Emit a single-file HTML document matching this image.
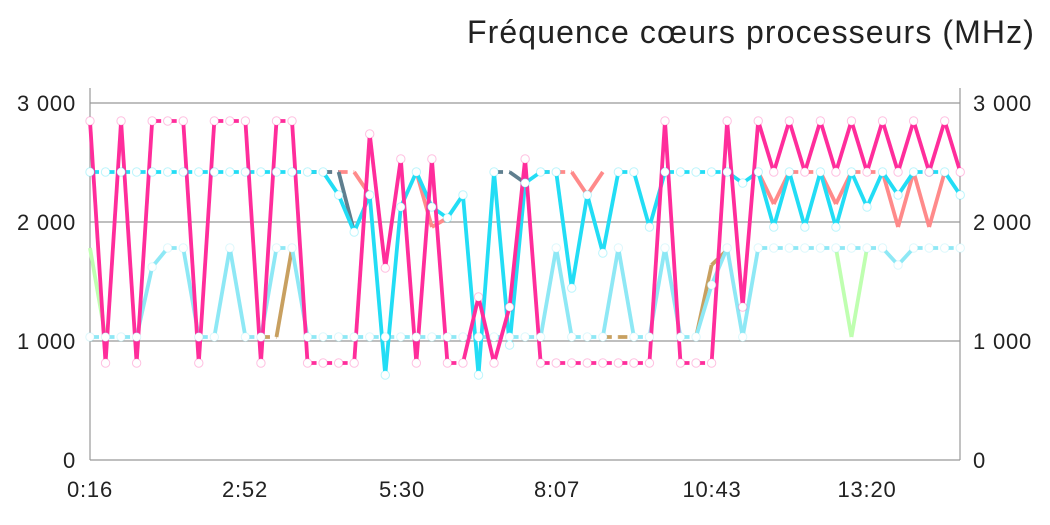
<!DOCTYPE html>
<html><head><meta charset="utf-8"><style>
body{margin:0;background:#fff;width:1050px;height:525px;overflow:hidden}
svg{display:block;font-family:"Liberation Sans",sans-serif}
</style></head><body>
<svg id="c" width="1050" height="525" xmlns="http://www.w3.org/2000/svg">
<text x="1035" y="43" font-size="32" text-anchor="end" fill="#222" letter-spacing="1.1">Fréquence cœurs processeurs (MHz)</text>
<g stroke="#999" stroke-width="1.2">
<line x1="90" y1="103" x2="960" y2="103"/><line x1="90" y1="222" x2="960" y2="222"/>
<line x1="90" y1="341" x2="960" y2="341"/><line x1="90" y1="460" x2="960" y2="460"/>
<line x1="90" y1="88" x2="90" y2="460"/><line x1="960" y1="88" x2="960" y2="460"/>
</g>
<g font-size="22" fill="#222" text-anchor="end" letter-spacing="0.8">
<text x="76" y="111">3 000</text><text x="76" y="230">2 000</text><text x="76" y="349">1 000</text><text x="76" y="468">0</text>
</g>
<g font-size="22" fill="#222" letter-spacing="0.8">
<text x="973" y="111">3 000</text><text x="973" y="230">2 000</text><text x="973" y="349">1 000</text><text x="973" y="468">0</text>
</g>
<g font-size="22" fill="#222" text-anchor="middle" letter-spacing="0.8">
<text x="90" y="497">0:16</text><text x="245" y="497">2:52</text><text x="402" y="497">5:30</text><text x="557" y="497">8:07</text><text x="712" y="497">10:43</text><text x="867" y="497">13:20</text>
</g>
<g id="s"></g>
</svg>
<script>
var X=function(i){return 90+15.54*i};
function arr(n,v){var a=[];for(var i=0;i<n;i++)a.push(v);return a}
var P=[121,363,121,363,121,121,121,363,121,121,121,363,121,121,363,363,363,363,134,268,159,363,159,363,363,297,363,307,159,363,363,363,363,363,363,363,363,121,363,363,363,121,307,121];
for(var i=44;i<=56;i++)P.push(i%2==0?172:121);
var C=arr(16,172).concat([195,232,195,375,207,172,207,218,195,375,172,345,183,172,172,288,195,253,172,172,227,172,172,172,172,172,183,172,227,172,227,172,227,172,207,172,195,172,172,172,195]);
var L=[337,337,337,337,267,248,248,337,337,248,337,337,248,248,337];
for(var i=15;i<30;i++)L.push(337);
L=L.concat([248,337,337,337,248,337,337,248,337,337,285,248,337,248]);
while(L.length<57)L.push(248);L[52]=265;
var segs=[
 ['#c8a060',[[11,337],[12,337],[13,248]]],
 ['#c8a060',[[33,337],[34,337],[35,337]]],
 ['#c8a060',[[39,337],[40,265],[41,250]]],
 ['#bfffb0',[[0,248],[1,337]]],
 ['#bfffb0',[[48,248],[49,337],[50,248]]],
 ['#ff8a8a',[[15,172],[16,172],[17,172],[18,195]]],
 ['#ff8a8a',[[21,172],[22,227],[23,218]]],
 ['#ff8a8a',[[29,172],[30,172],[31,172],[32,195],[33,172]]],
 ['#ff8a8a',[[43,172],[44,204],[45,172],[47,172],[48,204],[49,172],[51,172],[52,227],[53,172],[54,227],[55,172]]],
 ['#5f7f8f',[[14,172],[15,172],[16,172],[17,232]]],
 ['#5f7f8f',[[26,172],[27,172],[28,183]]]
];
var g=document.getElementById('s'),h='';
function line(col,pts,w){
 for(var k=0;k<pts.length-1;k++){var a=pts[k],b=pts[k+1];
  h+='<line x1="'+X(a[0])+'" y1="'+a[1]+'" x2="'+X(b[0])+'" y2="'+b[1]+'" stroke="'+col+'" stroke-width="'+w+'"'+(a[1]==b[1]?' stroke-dasharray="9,6"':'')+' stroke-linecap="butt"/>';}
}
function ser(a){return a.map(function(v,i){return [i,v]})}
segs.forEach(function(s){line(s[0],s[1],3.8)});
line('#8ee8f5',ser(L),3.8);
line('#22ddf5',ser(C),3.8);
line('#ff2d9b',ser(P),3.8);
function dots(a,col){a.forEach(function(v,i){h+='<circle cx="'+X(i)+'" cy="'+v+'" r="4.2" fill="#fff" stroke="'+col+'" stroke-opacity="0.3" stroke-width="1"/>'})}
dots(L,'#8ee8f5');dots(C,'#22ddf5');dots(P,'#ff2d9b');
g.innerHTML=h;
</script>
</body></html>
